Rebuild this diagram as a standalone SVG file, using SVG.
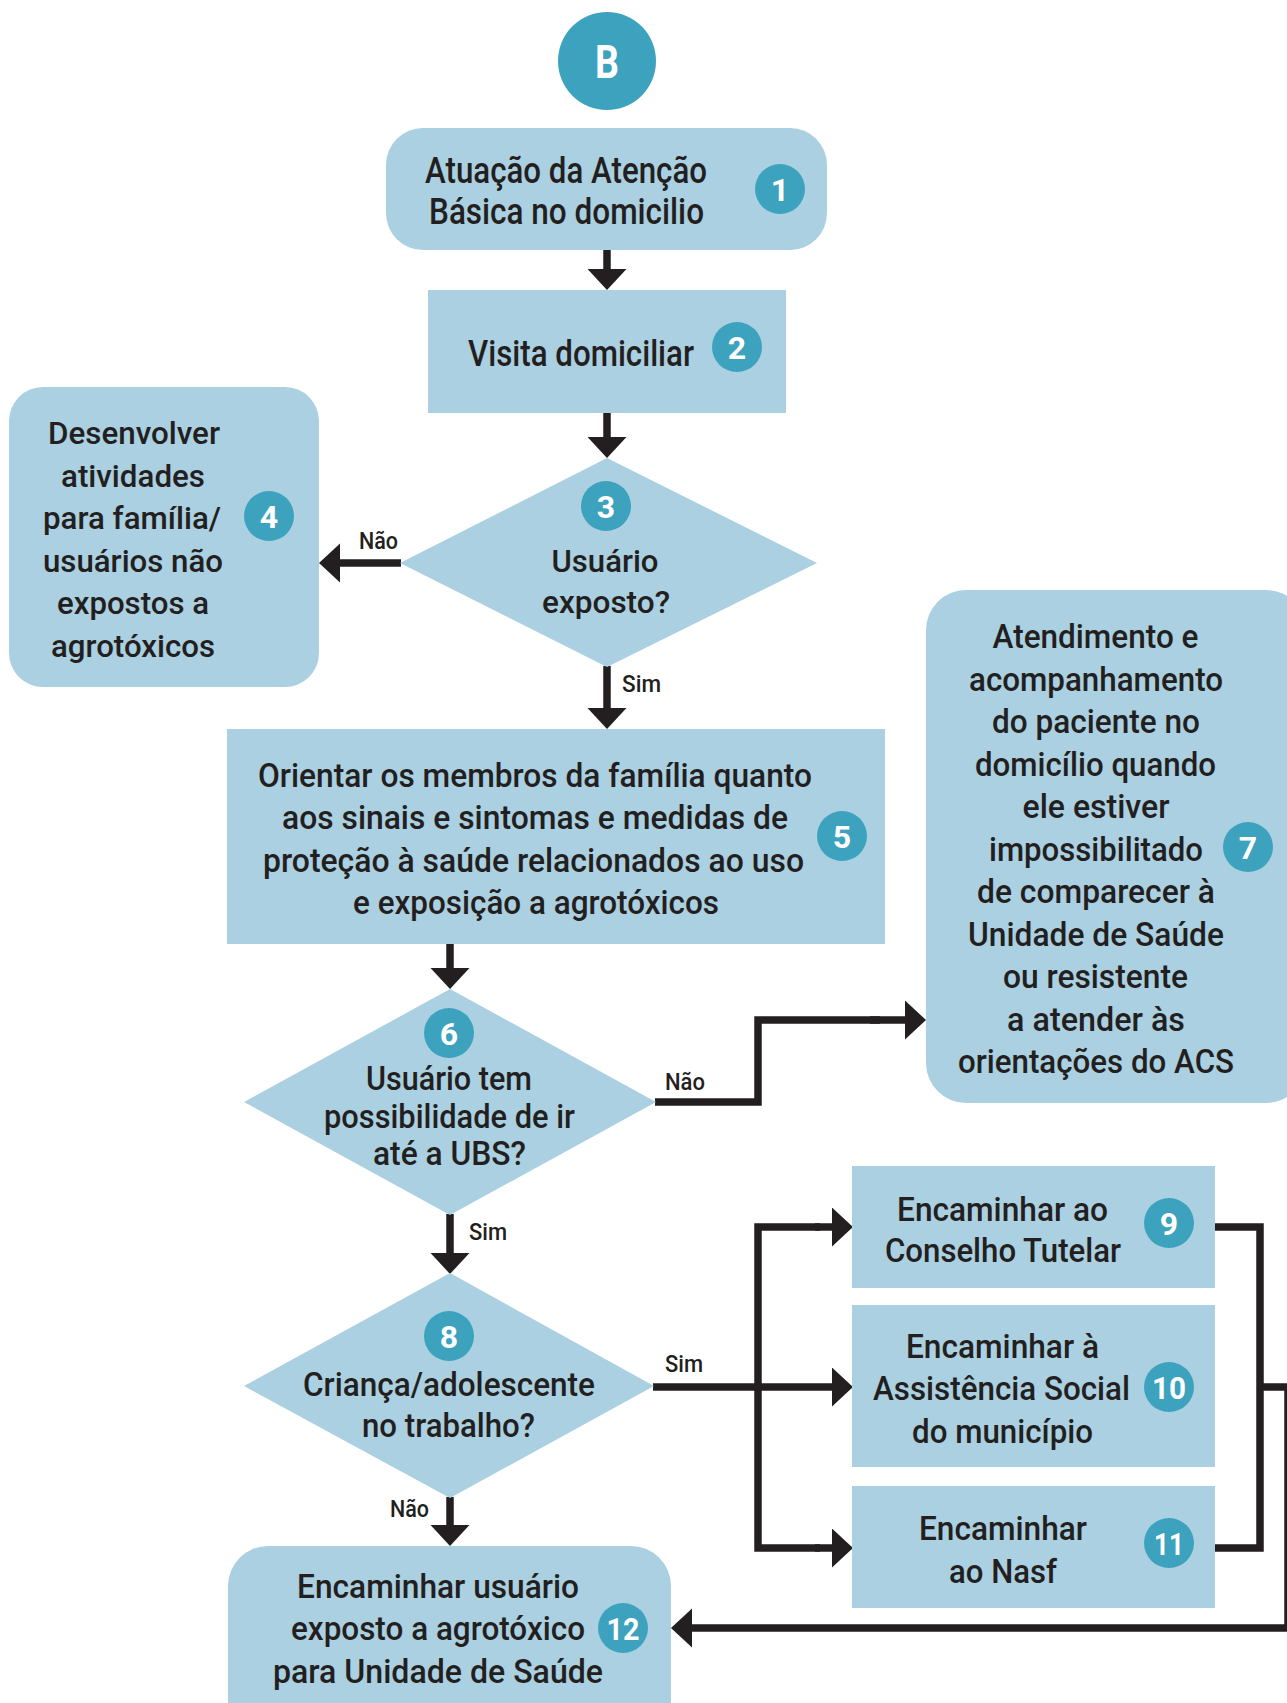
<svg xmlns="http://www.w3.org/2000/svg" width="1287" height="1703" viewBox="0 0 1287 1703">
  <defs>
    <style>
      .box { fill: #aad0e1; }
      .badge { fill: #3ca2bd; }
      .t { font-family: Roboto, 'Liberation Sans', sans-serif; font-weight: 500; font-size: 34px; fill: #231f20; text-anchor: middle; }
      .t36 { font-size: 36px; }
      .t32 { font-size: 32px; }
      .num { font-family: Roboto, 'Liberation Sans', sans-serif; font-weight: bold; font-size: 32px; fill: #ffffff; text-anchor: middle; }
      .lbl { font-family: Roboto, 'Liberation Sans', sans-serif; font-weight: 500; font-size: 23px; fill: #231f20; }
      .wire { fill: none; stroke: #231f20; stroke-width: 7.5; stroke-linejoin: miter; stroke-linecap: butt; }
      .arrow { marker-end: url(#head); }
    </style>
    <marker id="head" markerUnits="userSpaceOnUse" markerWidth="22" markerHeight="40" viewBox="0 0 22 40" refX="0" refY="19.5" orient="auto">
      <path d="M0,0 L21,19.5 L0,39 z" fill="#231f20"/>
    </marker>
  </defs>

  <!-- connectors -->
  <g id="connectors">
    <path class="wire arrow" d="M607 250 V269"/>
    <path class="wire arrow" d="M607 413 V437"/>
    <path class="wire arrow" d="M401 563 H340"/>
    <path class="wire arrow" d="M607 666 V708"/>
    <path class="wire arrow" d="M450 944 V968"/>
    <path class="wire" d="M655 1102 H758 V1020 H880"/>
    <path class="wire arrow" d="M870 1020 H905"/>
    <path class="wire arrow" d="M450 1214 V1253"/>
    <path class="wire" d="M820 1227 H758 V1548 H820"/>
    <path class="wire arrow" d="M815 1227 H832"/>
    <path class="wire arrow" d="M653 1387 H832"/>
    <path class="wire arrow" d="M815 1548 H832"/>
    <path class="wire arrow" d="M450 1497 V1525"/>
    <path class="wire" d="M1215 1227 H1260 V1548 H1215"/>
    <path class="wire arrow" d="M1260 1387 H1288 V1628 H692"/>
  </g>

  <!-- start marker -->
  <g id="start">
    <circle class="badge" cx="607" cy="61" r="49"/>
    <text class="num" x="607" y="78" style="font-size:46px" textLength="24" lengthAdjust="spacingAndGlyphs">B</text>
  </g>

  <g id="n1">
    <rect class="box" x="386" y="128" width="441" height="122" rx="37"/>
    <text class="t t36" x="566" y="183" textLength="282" lengthAdjust="spacingAndGlyphs">Atuação da Atenção</text>
    <text class="t t36" x="566.5" y="224" textLength="275" lengthAdjust="spacingAndGlyphs">Básica no domicilio</text>
    <circle class="badge" cx="780" cy="189" r="25"/>
    <text class="num" x="780" y="200.5">1</text>
  </g>

  <g id="n2">
    <rect class="box" x="428" y="290" width="358" height="123"/>
    <text class="t t36" x="581" y="366" textLength="226" lengthAdjust="spacingAndGlyphs">Visita domiciliar</text>
    <circle class="badge" cx="737" cy="347" r="25"/>
    <text class="num" x="737" y="358.5">2</text>
  </g>

  <g id="n3">
    <polygon class="box" points="607,458 817,563 607,667 400,563"/>
    <circle class="badge" cx="606" cy="506" r="25"/>
    <text class="num" x="606" y="517.5">3</text>
    <text class="t t32" x="605" y="572" textLength="107" lengthAdjust="spacingAndGlyphs">Usuário</text>
    <text class="t t32" x="606" y="613" textLength="128" lengthAdjust="spacingAndGlyphs">exposto?</text>
    <text class="lbl" x="359" y="549" textLength="39" lengthAdjust="spacingAndGlyphs">Não</text>
    <text class="lbl" x="622" y="692" textLength="39" lengthAdjust="spacingAndGlyphs">Sim</text>
  </g>

  <g id="n4">
    <rect class="box" x="9" y="387" width="310" height="300" rx="34"/>
    <text class="t t32" x="134" y="444" textLength="172" lengthAdjust="spacingAndGlyphs">Desenvolver</text>
    <text class="t t32" x="133" y="486.5" textLength="144" lengthAdjust="spacingAndGlyphs">atividades</text>
    <text class="t t32" x="132" y="529" textLength="178" lengthAdjust="spacingAndGlyphs">para família/</text>
    <text class="t t32" x="133" y="571.5" textLength="180" lengthAdjust="spacingAndGlyphs">usuários não</text>
    <text class="t t32" x="133" y="614" textLength="152" lengthAdjust="spacingAndGlyphs">expostos a</text>
    <text class="t t32" x="133" y="657" textLength="164" lengthAdjust="spacingAndGlyphs">agrotóxicos</text>
    <circle class="badge" cx="269" cy="516" r="25"/>
    <text class="num" x="269" y="527.5">4</text>
  </g>

  <g id="n5">
    <rect class="box" x="227" y="729" width="658" height="215"/>
    <text class="t" x="535" y="787" textLength="554" lengthAdjust="spacingAndGlyphs">Orientar os membros da família quanto</text>
    <text class="t" x="535" y="829" textLength="506" lengthAdjust="spacingAndGlyphs">aos sinais e sintomas e medidas de</text>
    <text class="t" x="533.5" y="871.5" textLength="541" lengthAdjust="spacingAndGlyphs">proteção à saúde relacionados ao uso</text>
    <text class="t" x="536" y="914" textLength="366" lengthAdjust="spacingAndGlyphs">e exposição a agrotóxicos</text>
    <circle class="badge" cx="842" cy="836" r="25"/>
    <text class="num" x="842" y="847.5">5</text>
  </g>

  <g id="n6">
    <polygon class="box" points="450,989 656,1102 450,1215 244,1102"/>
    <circle class="badge" cx="449" cy="1033" r="25"/>
    <text class="num" x="449" y="1044.5">6</text>
    <text class="t" x="449" y="1090" textLength="166" lengthAdjust="spacingAndGlyphs">Usuário tem</text>
    <text class="t" x="449.5" y="1128" textLength="251" lengthAdjust="spacingAndGlyphs">possibilidade de ir</text>
    <text class="t" x="449.5" y="1165" textLength="153" lengthAdjust="spacingAndGlyphs">até a UBS?</text>
    <text class="lbl" x="665" y="1090" textLength="40" lengthAdjust="spacingAndGlyphs">Não</text>
    <text class="lbl" x="469" y="1240" textLength="38" lengthAdjust="spacingAndGlyphs">Sim</text>
  </g>

  <g id="n7">
    <rect class="box" x="926" y="590" width="380" height="513" rx="40"/>
    <text class="t" x="1095.5" y="648" textLength="206" lengthAdjust="spacingAndGlyphs">Atendimento e</text>
    <text class="t" x="1096" y="690.5" textLength="254" lengthAdjust="spacingAndGlyphs">acompanhamento</text>
    <text class="t" x="1096" y="733" textLength="208" lengthAdjust="spacingAndGlyphs">do paciente no</text>
    <text class="t" x="1095.5" y="775.5" textLength="241" lengthAdjust="spacingAndGlyphs">domicílio quando</text>
    <text class="t" x="1096" y="818" textLength="147" lengthAdjust="spacingAndGlyphs">ele estiver</text>
    <text class="t" x="1096" y="860.5" textLength="214" lengthAdjust="spacingAndGlyphs">impossibilitado</text>
    <text class="t" x="1096" y="903" textLength="238" lengthAdjust="spacingAndGlyphs">de comparecer à</text>
    <text class="t" x="1096" y="945.5" textLength="256" lengthAdjust="spacingAndGlyphs">Unidade de Saúde</text>
    <text class="t" x="1095.5" y="988" textLength="185" lengthAdjust="spacingAndGlyphs">ou resistente</text>
    <text class="t" x="1096" y="1030.5" textLength="178" lengthAdjust="spacingAndGlyphs">a atender às</text>
    <text class="t" x="1096" y="1073" textLength="276" lengthAdjust="spacingAndGlyphs">orientações do ACS</text>
    <circle class="badge" cx="1248" cy="847" r="25"/>
    <text class="num" x="1248" y="858.5">7</text>
  </g>

  <g id="n8">
    <polygon class="box" points="450,1273 654,1386 450,1498 244,1386"/>
    <circle class="badge" cx="449" cy="1336" r="25"/>
    <text class="num" x="449" y="1347.5">8</text>
    <text class="t" x="449" y="1396" textLength="292" lengthAdjust="spacingAndGlyphs">Criança/adolescente</text>
    <text class="t" x="448.5" y="1437" textLength="173" lengthAdjust="spacingAndGlyphs">no trabalho?</text>
    <text class="lbl" x="665" y="1372" textLength="38" lengthAdjust="spacingAndGlyphs">Sim</text>
    <text class="lbl" x="390" y="1517" textLength="39" lengthAdjust="spacingAndGlyphs">Não</text>
  </g>

  <g id="n9">
    <rect class="box" x="852" y="1166" width="363" height="122"/>
    <text class="t" x="1002.5" y="1221" textLength="211" lengthAdjust="spacingAndGlyphs">Encaminhar ao</text>
    <text class="t" x="1003" y="1262" textLength="236" lengthAdjust="spacingAndGlyphs">Conselho Tutelar</text>
    <circle class="badge" cx="1169" cy="1223" r="25"/>
    <text class="num" x="1169" y="1234.5">9</text>
  </g>

  <g id="n10">
    <rect class="box" x="852" y="1305" width="363" height="162"/>
    <text class="t" x="1002.5" y="1358" textLength="193" lengthAdjust="spacingAndGlyphs">Encaminhar à</text>
    <text class="t" x="1001.5" y="1400" textLength="257" lengthAdjust="spacingAndGlyphs">Assistência Social</text>
    <text class="t" x="1002.5" y="1443" textLength="181" lengthAdjust="spacingAndGlyphs">do município</text>
    <circle class="badge" cx="1169" cy="1387" r="25"/>
    <text class="num" x="1169" y="1398.5" textLength="34" lengthAdjust="spacingAndGlyphs">10</text>
  </g>

  <g id="n11">
    <rect class="box" x="852" y="1486" width="363" height="122"/>
    <text class="t" x="1003" y="1540" textLength="168" lengthAdjust="spacingAndGlyphs">Encaminhar</text>
    <text class="t" x="1003" y="1583" textLength="108" lengthAdjust="spacingAndGlyphs">ao Nasf</text>
    <circle class="badge" cx="1169" cy="1543" r="25"/>
    <text class="num" x="1169" y="1554.5" textLength="30" lengthAdjust="spacingAndGlyphs">11</text>
  </g>

  <g id="n12">
    <rect class="box" x="228" y="1546" width="443" height="200" rx="40"/>
    <text class="t" x="438" y="1598" textLength="282" lengthAdjust="spacingAndGlyphs">Encaminhar usuário</text>
    <text class="t" x="438" y="1640" textLength="294" lengthAdjust="spacingAndGlyphs">exposto a agrotóxico</text>
    <text class="t" x="438" y="1683" textLength="330" lengthAdjust="spacingAndGlyphs">para Unidade de Saúde</text>
    <circle class="badge" cx="623" cy="1628" r="25"/>
    <text class="num" x="623" y="1639.5" textLength="33" lengthAdjust="spacingAndGlyphs">12</text>
  </g>
</svg>
